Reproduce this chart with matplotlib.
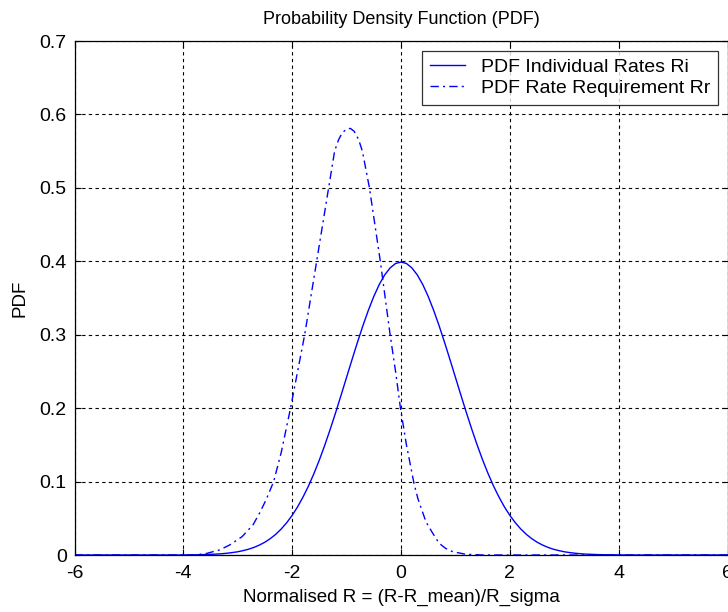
import numpy as np
import matplotlib
matplotlib.use("Agg")
import matplotlib.pyplot as plt

plt.rcParams['font.family'] = ['Liberation Sans', 'DejaVu Sans']
plt.rcParams['axes.unicode_minus'] = False

# ---- data ----
solid_x = np.round(np.arange(-6.0, 6.0001, 0.1), 1)
solid_y = [0] * 20 + [
    0.0001, 0.0002, 0.0003, 0.0004, 0.0006, 0.0009, 0.0012, 0.0017, 0.0024, 0.0033,
    0.0044, 0.0060, 0.0079, 0.0104, 0.0136, 0.0175, 0.0224, 0.0283, 0.0355, 0.0440,
    0.0540, 0.0656, 0.0790, 0.0940, 0.1109, 0.1295, 0.1497, 0.1714, 0.1942, 0.2179,
    0.2420, 0.2661, 0.2897, 0.3123, 0.3332, 0.3521, 0.3683, 0.3814, 0.3910, 0.3970,
    0.3989,
    0.3970, 0.3910, 0.3814, 0.3683, 0.3521, 0.3332, 0.3123, 0.2897, 0.2661, 0.2420,
    0.2179, 0.1942, 0.1714, 0.1497, 0.1295, 0.1109, 0.0940, 0.0790, 0.0656, 0.0540,
    0.0440, 0.0355, 0.0283, 0.0224, 0.0175, 0.0136, 0.0104, 0.0079, 0.0060, 0.0044,
    0.0033, 0.0024, 0.0017, 0.0012, 0.0009, 0.0006, 0.0004, 0.0003, 0.0002, 0.0001,
] + [0] * 20

dashed_x = [-6.0, -3.8, -3.58, -3.33, -3.15, -2.92, -2.72, -2.60, -2.48, -2.34, -2.20,
            -2.03, -1.90, -1.77, -1.66, -1.55, -1.44, -1.33, -1.22, -1.15, -1.08, -1.00,
            -0.93, -0.86, -0.78, -0.71, -0.58, -0.48, -0.38, -0.29, -0.20, -0.10, -0.01,
            0.10, 0.24, 0.31, 0.37, 0.46, 0.58, 0.70, 0.82, 0.95, 1.19, 1.5, 6.0]
dashed_y = [0.0, 0.0, 0.002, 0.007, 0.0136, 0.025, 0.041, 0.057, 0.075, 0.100, 0.140,
            0.200, 0.250, 0.300, 0.350, 0.400, 0.450, 0.500, 0.550, 0.565, 0.575, 0.580,
            0.581, 0.577, 0.566, 0.550, 0.500, 0.450, 0.400, 0.350, 0.300, 0.250, 0.200,
            0.150, 0.097, 0.077, 0.064, 0.045, 0.030, 0.016, 0.009, 0.0045, 0.001, 0.0, 0.0]

x_ticks = [-6, -4, -2, 0, 2, 4, 6]
x_tick_labels = ['-6', '-4', '-2', '0', '2', '4', '6']
y_ticks = [0, 0.1, 0.2, 0.3, 0.4, 0.5, 0.6, 0.7]
y_tick_labels = ['0', '0.1', '0.2', '0.3', '0.4', '0.5', '0.6', '0.7']

title = 'Probability Density Function (PDF)'
xlabel = 'Normalised R = (R-R_mean)/R_sigma'
ylabel = 'PDF'
series_names = ['PDF Individual Rates Ri', 'PDF Rate Requirement Rr']

# ---- figure ----
W, H = 728, 612
fig = plt.figure(figsize=(W / 100, H / 100), dpi=100)
ax = fig.add_axes([74.5 / W, 57 / H, 653 / W, 514 / H])

ax.plot(solid_x, solid_y, color='#0000ff', lw=1.0, linestyle='-', label=series_names[0])
ax.plot(dashed_x, dashed_y, color='#0000ff', lw=1.0, linestyle=(0, (6, 3, 1.5, 3)),
        label=series_names[1])

ax.set_xlim(-6, 6)
ax.set_ylim(0, 0.7)
ax.set_xticks(x_ticks)
ax.set_xticklabels(x_tick_labels)
ax.set_yticks(y_ticks)
ax.set_yticklabels(y_tick_labels)

ax.grid(True, color='black', linestyle=(0, (3, 3)), linewidth=0.8)
ax.tick_params(direction='in', length=4, width=0.8, top=True, right=True,
               labelsize=14, colors='black')
ax.tick_params(axis='x', pad=7)
ax.tick_params(axis='y', pad=5.5)
for s in ax.spines.values():
    s.set_linewidth(0.9)
    s.set_color('black')

ax.set_title(title, fontsize=13, pad=12)
ax.set_xlabel(xlabel, fontsize=13.5, labelpad=5)
ax.set_ylabel(ylabel, fontsize=13.5, labelpad=8)

leg = ax.legend(loc='upper right', fontsize=14, frameon=True, fancybox=False,
                edgecolor='black', handlelength=1.8, borderaxespad=0.5,
                borderpad=0.4, labelspacing=0.18, handletextpad=0.8)
leg.get_frame().set_linewidth(0.9)

fig.savefig('out.png', dpi=100)
